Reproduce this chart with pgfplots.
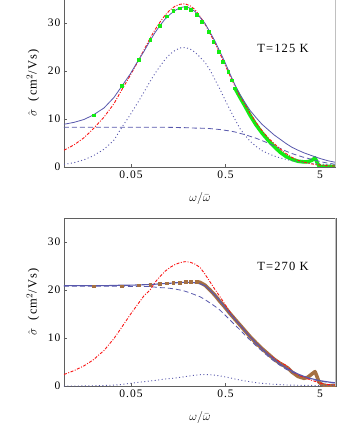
\documentclass[border=0pt]{standalone}
\usepackage{fontspec}
\setmainfont{Liberation Serif}
\usepackage{pgfplots}
\pgfplotsset{compat=1.18}
\usepackage{pgfplotstable}

\definecolor{curveblue}{RGB}{88,88,172}
\definecolor{fitred}{RGB}{250,20,20}
\definecolor{datagreen}{RGB}{20,235,20}
\definecolor{databrown}{RGB}{165,112,66}
\definecolor{axisgray}{RGB}{95,95,95}
\definecolor{framegray}{RGB}{192,192,192}

\newcommand{\spaced}[1]{\fontsize{#1}{#1}\selectfont\addfontfeatures{LetterSpace=9}}

% columns: x, total, drude (dashed), lorentz (dotted), alt fit (dash-dot)
\pgfplotstableread{
x       tot   dru   lor   alt
0.00977 8.9   8.3   0.55  3.5
0.01247 9.3   8.3   0.9   4.6
0.01591 9.9   8.3   1.5   6.1
0.01981 10.8  8.3   2.3   7.9
0.02591 12.3  8.3   3.7   10.4
0.03304 14.5  8.3   5.6   13.2
0.03918 16.6  8.3   8.0   15.8
0.04881 19.3  8.3   10.8  19.0
0.05929 22.1  8.3   13.5  22.0
0.06864 24.1  8.3   15.6  24.4
0.07943 26.3  8.3   17.8  26.8
0.08974 28.0  8.3   19.5  28.6
0.1014  29.5  8.3   21.0  30.2
0.1145  30.8  8.3   22.4  31.6
0.1293  31.8  8.25  23.5  32.7
0.1461  32.6  8.25  24.3  33.5
0.1650  33.2  8.2   24.8  33.9
0.1864  33.4  8.2   24.9  34.0
0.2105  33.1  8.15  24.6  33.6
0.2378  32.4  8.1   23.9  32.8
0.2686  31.2  8.1   22.9  31.4
0.3034  29.9  8.05  21.8  29.8
0.3427  28.1  8.0   20.2  27.8
0.3872  26.2  7.9   18.2  25.8
0.4373  24.0  7.8   16.2  23.6
0.4940  21.8  7.65  14.0  21.3
0.5580  19.4  7.5   11.9  19.0
0.6303  17.1  7.3   9.9   16.8
0.7120  15.1  7.0   8.0   14.8
0.8043  13.4  6.75  6.6   13.0
0.9085  11.8  6.4   5.4   11.2
1.051   10.3  6.0   4.3   9.3
1.216   8.9   5.5   3.4   7.6
1.408   7.8   5.0   2.8   6.1
1.630   6.7   4.4   2.3   4.9
1.887   5.8   3.9   1.9   3.8
2.184   4.9   3.3   1.6   2.8
2.527   4.1   2.8   1.3   2.0
2.925   3.5   2.4   1.1   1.4
3.385   2.95  2.0   0.95  1.0
3.918   2.5   1.7   0.8   0.7
4.535   2.05  1.35  0.7   0.5
5.249   1.65  1.05  0.6   0.35
6.075   1.3   0.8   0.5   0.25
7.384   0.95  0.55  0.4   0.2
}\lowT

\pgfplotstableread{
x       tot   dru   lor   alt
0.00977 20.9  20.8  0.0   2.4
0.01247 20.9  20.8  0.0   3.2
0.01591 20.9  20.8  0.02  4.2
0.01981 20.9  20.8  0.05  5.4
0.02591 20.9  20.8  0.1   7.4
0.03304 20.95 20.8  0.2   9.9
0.03918 21.0  20.8  0.3   12.0
0.04881 21.0  20.75 0.55  14.8
0.05929 21.05 20.75 0.75  17.1
0.06864 21.1  20.75 0.9   18.8
0.07943 21.15 20.7  1.05  20.0
0.08974 21.2  20.6  1.15  21.6
0.1014  21.3  20.5  1.3   22.8
0.1145  21.35 20.45 1.45  23.9
0.1293  21.4  20.35 1.55  24.7
0.1461  21.5  20.2  1.65  25.3
0.1650  21.55 20.0  1.8   25.7
0.1864  21.6  19.75 1.95  25.9
0.2105  21.6  19.4  2.1   25.8
0.2378  21.5  19.0  2.25  25.4
0.2686  21.3  18.6  2.35  24.7
0.3034  20.9  18.0  2.4   23.3
0.3427  20.0  17.3  2.35  21.7
0.3872  18.9  16.6  2.25  20.1
0.4373  17.7  15.8  2.1   18.6
0.4940  16.4  14.8  1.9   17.0
0.5580  15.1  13.75 1.7   15.4
0.6303  13.9  12.7  1.45  13.9
0.7120  12.7  11.7  1.25  12.7
0.8043  11.5  10.6  1.05  11.5
0.9085  10.3  9.6   0.9   10.3
1.051   9.0   8.4   0.7   9.0
1.216   7.8   7.3   0.55  7.8
1.408   6.6   6.2   0.45  6.7
1.630   5.6   5.2   0.35  5.8
1.887   4.6   4.3   0.3   5.0
2.184   3.8   3.5   0.22  4.3
2.527   3.1   2.9   0.18  3.1
2.925   2.5   2.3   0.15  2.3
3.385   2.0   1.85  0.13  1.8
3.918   1.6   1.5   0.12  1.3
4.535   1.3   1.2   0.1   0.9
5.249   1.05  0.95  0.1   0.5
6.075   0.85  0.75  0.09  0.3
7.384   0.65  0.55  0.08  0.2
}\highT

\pgfplotsset{
  mypanel/.style={
    scale only axis, width=272pt, height=168pt,
    xmin=0.00977, xmax=7.384, ymin=0, ymax=35,
    xtick={0.05,0.5,5}, xticklabels={0.05,0.5,5},
    ytick={0,10,20,30},
    xminorticks=false, yminorticks=false,
    tick align=inside, tick pos=left, major tick length=3pt,
    tick style={axisgray, line width=0.6pt},
    axis line style={axisgray, line width=0.8pt},
    tick label style={font=\spaced{11.5}},
    /pgf/number format/assume math mode=true,
    xlabel={$\omega/\bar{\omega}$},
    ylabel={$\hat{\sigma}$\ \ (cm$^{2}$/Vs)},
    label style={font=\spaced{12.5}},
    xlabel style={at={(axis description cs:0.5,-0.19)}, anchor=center},
    ylabel style={at={(axis description cs:-0.114,0.5)}, anchor=center},
  },
  cTot/.style={curveblue, line width=0.8pt},
  cDru/.style={curveblue, line width=0.8pt, dash pattern=on 5pt off 3pt},
  cLor/.style={curveblue, line width=0.9pt, dash pattern=on 1pt off 2.5pt},
  cAlt/.style={fitred, line width=0.9pt, dash pattern=on 3pt off 1.5pt on 1pt off 1.5pt},
}

\begin{document}
\begin{tikzpicture}
  % T = 125 K
  \begin{axis}[xmode=log, mypanel, at={(64pt,257pt)}, anchor=south west,
      axis x line*=bottom, axis y line*=left, axis line style={-}]
    \addplot[datagreen, line width=3.6pt, line join=round] coordinates {
      (0.63,16.4) (0.712,14.5) (0.8043,12.7) (0.9085,10.8) (1.051,8.8)
      (1.216,7.1) (1.408,5.6) (1.63,4.3) (1.887,3.1) (2.184,2.2)
      (2.527,1.6) (2.925,1.2) (3.385,1.05) (3.73,1.1) (4.11,1.4)
      (4.43,1.9) (4.64,1.0) (4.88,0.2) (5.249,0.1) (6.075,0.1) (7.384,0.1)};
    \addplot[cLor] table[x=x, y=lor] {\lowT};
    \addplot[cDru] table[x=x, y=dru] {\lowT};
    \addplot[cAlt] table[x=x, y=alt] {\lowT};
    \addplot[cTot] table[x=x, y=tot] {\lowT};
    \addplot[only marks, mark=square*, mark size=1.4pt, datagreen] coordinates {
      (0.02,10.8) (0.04,16.9) (0.06,22.3) (0.08,26.6) (0.10,29.4)
      (0.12,31.4) (0.14,32.6) (0.165,33.1) (0.19,33.2) (0.215,32.8)
      (0.248,31.7) (0.28,30.3) (0.33,28.2) (0.37,26.1) (0.42,24.0)
      (0.47,21.9) (0.535,19.85) (0.58,18.1) (0.63,16.4)};
    \draw[framegray, line width=2pt] (rel axis cs:1,0) -- (rel axis cs:1,1);
    \node[font=\spaced{12.5}] at (rel axis cs:0.805,0.708) {T=125 K};
  \end{axis}

  % T = 270 K
  \begin{axis}[xmode=log, mypanel, at={(64pt,38pt)}, anchor=south west]
    \addplot[databrown, line width=3.6pt, line join=round] coordinates {
      (0.248,21.7) (0.2686,21.6) (0.3034,21.0) (0.3427,20.0) (0.3872,18.9)
      (0.4373,17.6) (0.494,16.4) (0.558,15.1) (0.6303,13.9) (0.712,12.7)
      (0.8043,11.5) (0.9085,10.3) (1.051,9.0) (1.216,7.8) (1.408,6.7)
      (1.63,5.6) (1.887,4.7) (2.05,4.3) (2.3,3.7) (2.527,2.9) (2.925,2.0)
      (3.385,1.6) (3.7,1.8) (4.1,2.5) (4.43,3.0) (4.64,2.0) (4.88,0.8)
      (5.249,0.3) (5.78,0.05) (7.384,0.0)};
    \addplot[only marks, mark=square*, mark size=1.4pt, databrown] coordinates {
      (0.02,20.8) (0.04,20.8) (0.06,21.0) (0.08,21.05) (0.10,21.25)
      (0.12,21.4) (0.14,21.5) (0.165,21.6) (0.19,21.7) (0.215,21.7)
      (0.248,21.7)};
    \addplot[cLor] table[x=x, y=lor] {\highT};
    \addplot[cDru] table[x=x, y=dru] {\highT};
    \addplot[cAlt] table[x=x, y=alt] {\highT};
    \addplot[cTot, line width=1.1pt] table[x=x, y=tot] {\highT};
    \draw[framegray, line width=2pt] (rel axis cs:1,0) -- (rel axis cs:1,1);
    \node[font=\spaced{12.5}] at (rel axis cs:0.805,0.71) {T=270 K};
  \end{axis}

  \pgfresetboundingbox
  \path[use as bounding box] (0,0) rectangle (360pt,424pt);
\end{tikzpicture}
\end{document}
